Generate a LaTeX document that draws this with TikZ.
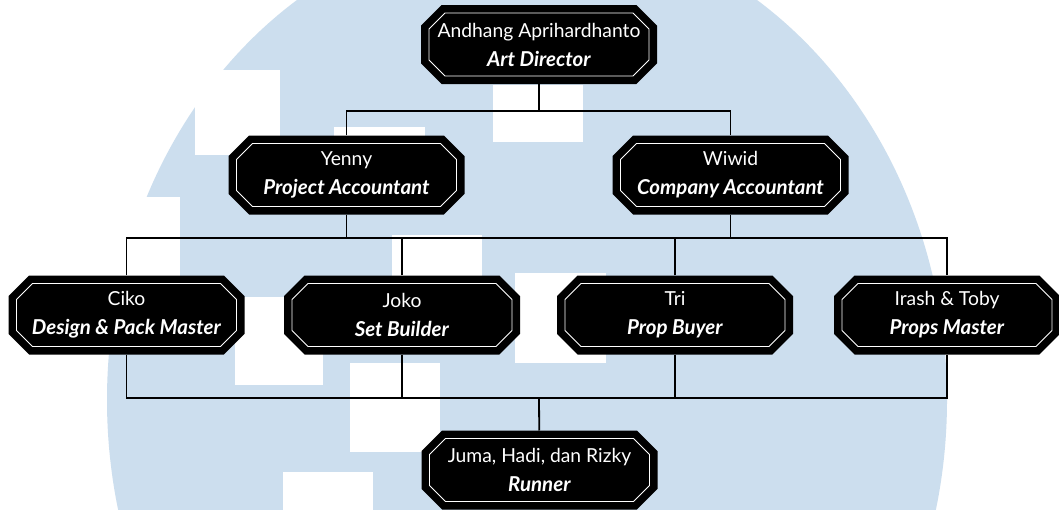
\documentclass[tikz,border=0pt]{standalone}
\usepackage{fontspec}
\setmainfont{Lato}
\usetikzlibrary{shapes.misc}

\definecolor{crest}{RGB}{204,222,238}

\tikzstyle{post}=[chamfered rectangle, chamfered rectangle xsep=8pt,
    chamfered rectangle ysep=8pt, fill=black, draw=white, line width=0.8pt,
    preaction={draw=black, line width=16pt}, text=white, align=center,
    minimum height=63pt, inner sep=0pt, outer sep=8pt,
    font=\fontsize{19.3}{29}\selectfont]
\tikzstyle{link}=[draw, line width=1.8pt, -]
\newcommand{\role}[1]{{\fontsize{20.5}{29}\selectfont\textbf{\textit{#1}}}}

\begin{document}
\begin{tikzpicture}[x=1pt, y=-1pt]
    \useasboundingbox (0,0) rectangle (1059,509);
    % faint crest behind the chart
    \fill[white] (0,0) rectangle (1059,509);
    \begin{scope}
        \clip (0,0) rectangle (1059,509);
        \fill[crest] (527,400) ellipse (420 and 478);
        \foreach \a/\b in {{(195,70)/(280,155)}, {(90,197)/(180,320)}, {(334,127)/(425,200)},
                           {(392,235)/(482,300)}, {(235,297)/(323,385)}, {(350,363)/(440,452)},
                           {(283,472)/(373,515)}, {(493,85)/(583,142)}, {(515,273)/(606,363)}}
            \fill[white] \a rectangle \b;
    \end{scope}

    \foreach \pos/\name/\w/\who/\job in {
            {(539,44.5)/director/220/Andhang Aprihardhanto/Art Director},
            {(346.5,175)/yenny/220/Yenny/Project Accountant},
            {(730.5,175)/wiwid/220/Wiwid/Company Accountant},
            {(126.5,315)/ciko/220/Ciko/Design \& Pack Master},
            {(402,315)/joko/220/Joko/Set Builder},
            {(675,315)/tri/220/Tri/Prop Buyer},
            {(947,315)/irash/210/Irash \& Toby/Props Master},
            {(539.5,470)/runner/220/{Juma, Hadi, dan Rizky}/Runner}}
        \node[post, minimum width=\w pt] (\name) at \pos {\who\\\role{\job}};

    \coordinate (hub1) at (539,111);
    \coordinate (hub2) at (539,238);
    \coordinate (hub3) at (539,398);

    \path[link] (director) -- (hub1);
    \path[link] (yenny) |- (hub1) -| (wiwid);
    \path[link] (ciko) |- (hub2) -| (irash);
    \path[link] (ciko) |- (hub3) -| (irash);
    \foreach \boss in {yenny, wiwid}
        \path[link] (\boss) -- (\boss |- hub2);
    \foreach \crew in {joko, tri} {
        \path[link] (\crew) -- (\crew |- hub2);
        \path[link] (\crew) -- (\crew |- hub3);
    }
    \path[link] (hub3) -- (runner);
\end{tikzpicture}
\end{document}
